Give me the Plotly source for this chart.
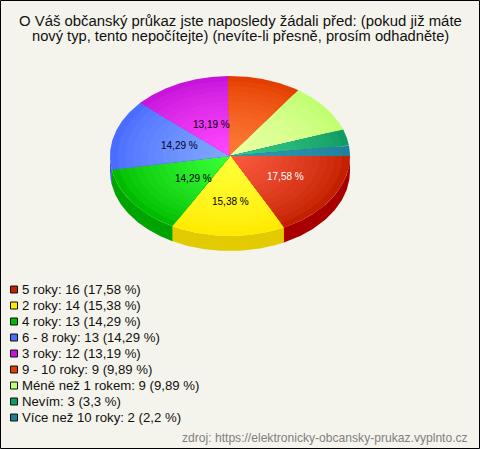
import numpy as np
import plotly.graph_objects as go

TITLE_LINES = ["O Váš občanský průkaz jste naposledy žádali před: (pokud již máte",
               "nový typ, tento nepočítejte) (nevíte-li přesně, prosím odhadněte)"]
TITLE_SIZES = [14.9, 14.7]
SOURCE = "zdroj: https://elektronicky-obcansky-prukaz.vyplnto.cz"
categories = ["5 roky", "2 roky", "4 roky", "6 - 8 roky", "3 roky", "9 - 10 roky",
              "Méně než 1 rokem", "Nevím", "Více než 10 roky"]
values = [16, 14, 13, 13, 12, 9, 9, 3, 2]
percents = ["17,58", "15,38", "14,29", "14,29", "13,19", "9,89", "9,89", "3,3", "2,2"]

edge_colors = ["#c42000", "#ffea00", "#00bc00", "#4a6cff", "#c614da", "#e43e00", "#bfff70", "#0f9c62", "#20809c"]
center_colors = ["#fa5a40", "#ffff38", "#38ff38", "#80a8ff", "#ff48ff", "#ff7c38", "#ecffa8", "#38c88c", "#3498b0"]
swatch_colors = ["#c82000", "#ffe800", "#00bc00", "#4a6cff", "#c614da", "#e43e00", "#bfff70", "#0f9c62", "#20809c"]
wall_colors = ["#a80000", "#e2cb00", "#00a400", "#3350d8", "#a000b0", "#c03000", "#a0d860", "#0c8050", "#186a80"]

label_fx = [0.54, 0.0, 0.37, 0.44, 0.36, 0, 0, 0, 0]
label_fy = [0.50, 0.575, 0.49, 0.46, 0.44, 0, 0, 0, 0]
label_color = ["white", "black", "black", "#000020", "black"]
LABELLED = 5

W, H = 480, 449
BG = "#f5f4ec"
CX, CY, RX, RY, DEPTH = 230, 156, 120, 80, 15
RINGS = 16
OVERLAP = 0.006


def hex2rgb(h):
    return np.array([int(h[i:i + 2], 16) for i in (1, 3, 5)], float)


def mix(a, b, t):
    c = hex2rgb(a) * (1 - t) + hex2rgb(b) * t
    return "rgb(%d,%d,%d)" % tuple(np.round(c))


def poly(xs, ys, color):
    return go.Scatter(x=xs, y=ys, mode="lines", fill="toself", fillcolor=color,
                      line=dict(color=color, width=0), hoverinfo="skip", showlegend=False)


fig = go.Figure()
total = sum(values)
edges = np.concatenate([[0], np.cumsum(values)]) / total * 2 * np.pi

# side wall
for i in range(len(values)):
    a0, a1 = edges[i], min(edges[i + 1] + OVERLAP, np.pi)
    if a0 >= np.pi:
        continue
    t = np.linspace(a0, a1, 60)
    xs = CX + RX * np.cos(t)
    ys = CY + RY * np.sin(t)
    fig.add_trace(poly(np.r_[xs, xs[::-1], xs[0]],
                       np.r_[ys, ys[::-1] + DEPTH, ys[0]], wall_colors[i]))

# top with radial shading
for i in range(len(values)):
    t = np.linspace(edges[i], edges[i + 1] + (OVERLAP if i < len(values) - 1 else 0), 80)
    for k in range(RINGS):
        f = 1 - k / RINGS
        xs = np.r_[CX, CX + f * RX * np.cos(t), CX]
        ys = np.r_[CY, CY + f * RY * np.sin(t), CY]
        fig.add_trace(poly(xs, ys, mix(edge_colors[i], center_colors[i], (k / (RINGS - 1)) ** 0.75)))

ann = []
# slice labels
for i in range(LABELLED):
    m = (edges[i] + edges[i + 1]) / 2
    ann.append(dict(x=CX + label_fx[i] * RX * np.cos(m), y=CY + label_fy[i] * RY * np.sin(m),
                    text=percents[i] + " %", showarrow=False,
                    font=dict(size=10, color=label_color[i])))
for line, y, s in zip(TITLE_LINES, [20.5, 35.5], TITLE_SIZES):
    ann.append(dict(x=240, y=y, text=line, showarrow=False,
                    font=dict(size=s, color="#111111")))
# legend
shapes = []
for i, (c, v, p) in enumerate(zip(categories, values, percents)):
    y = round(289 + i * 15.95) + 0.5
    shapes.append(dict(type="rect", x0=10.5, x1=17.5, y0=y - 3.5, y1=y + 3.5,
                       fillcolor=swatch_colors[i], line=dict(color="#111111", width=1)))
    ann.append(dict(x=20, y=y, xanchor="left", text=f"{c}: {v} ({p} %)", showarrow=False,
                    font=dict(size=13.2, color="#111111")))
ann.append(dict(x=469.5, y=438, xanchor="right", text=SOURCE, showarrow=False,
                font=dict(size=12.1, color="#808080")))
shapes.append(dict(type="rect", x0=0.5, x1=W - 0.5, y0=0.5, y1=H - 0.5,
                   line=dict(color="#000000", width=1), fillcolor="rgba(0,0,0,0)"))

fig.update_layout(
    width=W, height=H, margin=dict(l=0, r=0, t=0, b=0), autosize=False,
    paper_bgcolor=BG, plot_bgcolor=BG, showlegend=False,
    font=dict(family="Liberation Sans, Arial, sans-serif"),
    xaxis=dict(range=[0, W], visible=False, fixedrange=True),
    yaxis=dict(range=[H, 0], visible=False, fixedrange=True),
    annotations=ann, shapes=shapes,
)
fig.write_html("out.html", config=dict(displayModeBar=False),
               post_script="document.body.style.margin='0';document.body.style.background='#f5f4ec';")
